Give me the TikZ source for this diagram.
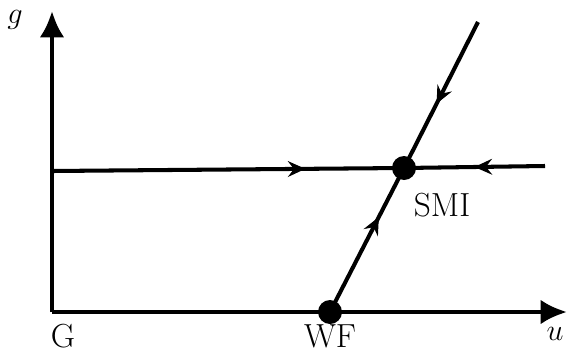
\documentclass[tikz,border=0pt]{standalone}
\usepackage{amsmath}
\usepackage{tikz}
\usetikzlibrary{arrows.meta,decorations.markings,calc}

\tikzset{
  flow/.style={line width=2.3pt, decoration={markings, mark=at position #1 with {\arrow{Stealth[length=10pt,width=9pt,inset=3.5pt]}}}, postaction={decorate}},
  fixpt/.style={circle, fill, inner sep=0pt, minimum size=0.48cm},
  lbl/.style={font=\fontsize{19}{22}\selectfont}
}

\begin{document}
\begin{tikzpicture}[x=0.02cm, y=-0.02cm]
  \useasboundingbox (0,0) rectangle (567,352);

  % Axes
  \coordinate (G) at (52,312);
  \coordinate (gtop) at (52,11);
  \coordinate (uend) at (567,312);
  \draw[line width=2.5pt, -{Latex[length=15pt,width=14pt]}] (G) -- (gtop);
  \draw[line width=2.5pt, -{Latex[length=15pt,width=14pt]}] (G) -- (uend);

  % Fixed points
  \node[fixpt] (WF) at (330,312) {};
  \node[fixpt] (SMI) at (404,168) {};

  % Horizontal line
  \coordinate (hleft) at (52,171);
  \coordinate (hright) at (545,166);
  \draw[flow=0.72] (hleft) -- (SMI.center);
  \draw[flow=0.5] (hright) -- (SMI.center);

  % Slanted line
  \coordinate (stop) at (478,22);
  \draw[flow=0.56] (stop) -- (SMI.center);
  \draw[flow=0.66] (WF.center) -- (SMI.center);

  % Labels
  \node[lbl] at (15,20) {$g$};
  \node[lbl] at (555,334) {$u$};
  \node[lbl] at (63,336) {G};
  \node[lbl] at (330,336) {WF};
  \node[lbl] at (442,205) {SMI};
\end{tikzpicture}
\end{document}
